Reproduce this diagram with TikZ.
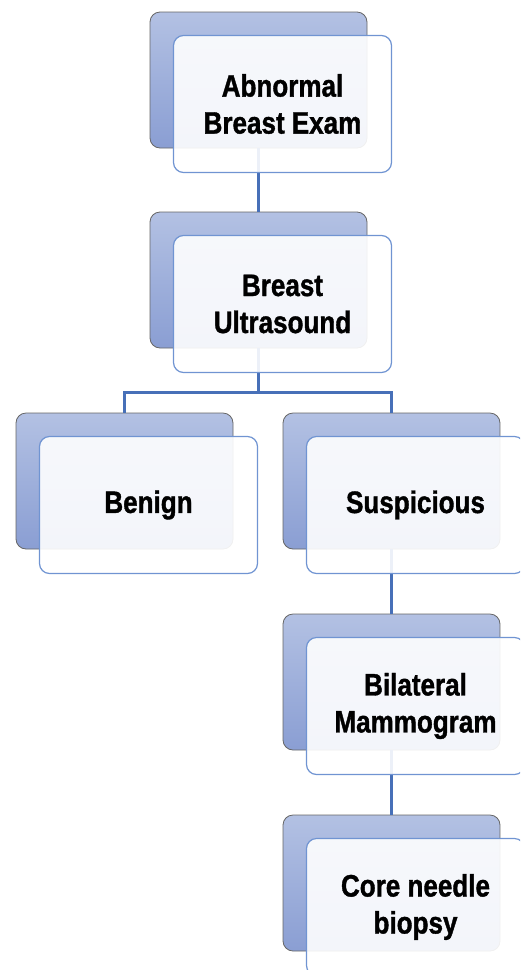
\documentclass[tikz,border=0pt]{standalone}
\usepackage{fontspec}
\setmainfont{Liberation Sans}[FakeStretch=0.84, BoldFeatures={FakeBold=1.2}]
\definecolor{backtop}{HTML}{B3C1E3}
\definecolor{backbot}{HTML}{8A9ED3}
\definecolor{frontline}{HTML}{7094D2}
\definecolor{linkblue}{HTML}{4770B8}

\begin{document}
\begin{tikzpicture}[x = 1pt, y = -1pt,
    back/.style = {rounded corners = 10pt, draw = black!60, line width = 0.8pt,
        top color = backtop, bottom color = backbot,
        minimum width = 217pt, minimum height = 136pt, inner sep = 0pt},
    front/.style = {rounded corners = 10pt, draw = frontline, line width = 1.2pt,
        fill = white, fill opacity = 0.9, text opacity = 1,
        minimum width = 218pt, minimum height = 137pt, inner sep = 0pt,
        align = center, font = \fontsize{31}{37}\selectfont\bfseries},
    link/.style = {draw = linkblue, line width = 3.5pt}]
    \useasboundingbox (0,0) rectangle (520,970);
    \clip (0,0) rectangle (520,970);

    \node [back] (examback) at (258.5,80) {};
    \node [back] (usback) at (258.5,280) {};
    \node [back] (benignback) at (124.5,481) {};
    \node [back] (suspback) at (391.5,481) {};
    \node [back] (mammoback) at (391.5,682) {};
    \node [back] (coreback) at (391.5,883) {};

    \draw [link] (examback.south) -- (usback.north);
    \draw [link] (usback.south) -- ++(0,44) coordinate (fork) -| (benignback.north);
    \draw [link] (fork) -| (suspback.north);
    \draw [link] (suspback.south) -- (mammoback.north);
    \draw [link] (mammoback.south) -- (coreback.north);

    \node [front] (exam) at ([shift = {(24,24)}]examback.center) {Abnormal\\Breast Exam};
    \node [front] (us) at ([shift = {(24,24)}]usback.center) {Breast\\Ultrasound};
    \node [front] (benign) at ([shift = {(24,24)}]benignback.center) {Benign};
    \node [front] (susp) at ([shift = {(24,24)}]suspback.center) {Suspicious};
    \node [front] (mammo) at ([shift = {(24,24)}]mammoback.center) {Bilateral\\Mammogram};
    \node [front] (core) at ([shift = {(24,24)}]coreback.center) {Core needle\\biopsy};
\end{tikzpicture}
\end{document}
